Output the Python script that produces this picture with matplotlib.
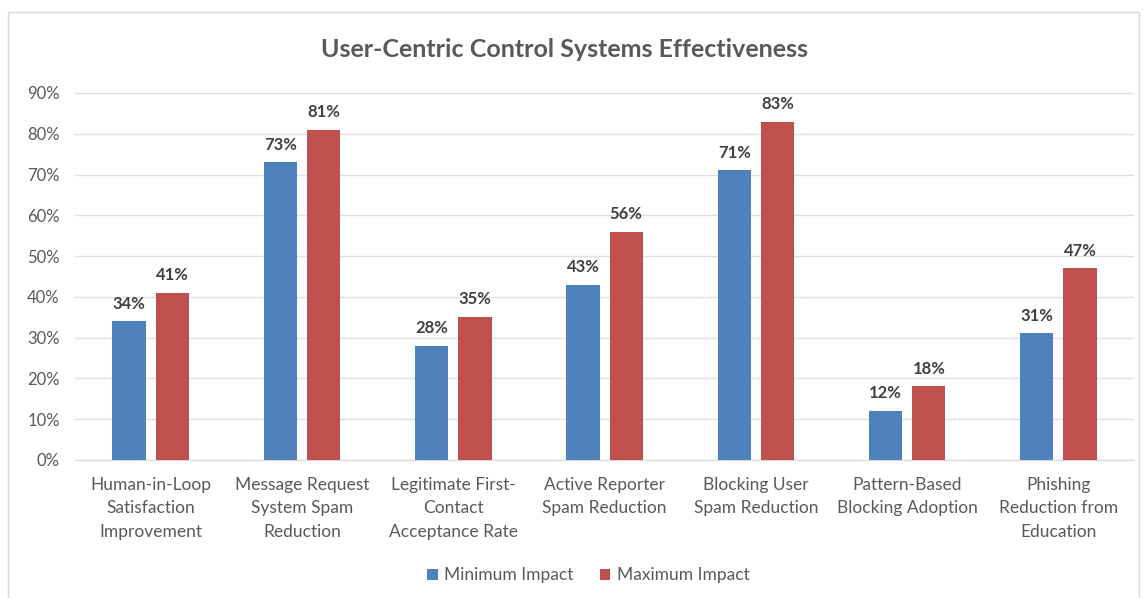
import numpy as np
import matplotlib
matplotlib.use("Agg")
import matplotlib.pyplot as plt
from matplotlib.patches import Rectangle

categories = [
    "Human-in-Loop\nSatisfaction\nImprovement",
    "Message Request\nSystem Spam\nReduction",
    "Legitimate First-\nContact\nAcceptance Rate",
    "Active Reporter\nSpam Reduction",
    "Blocking User\nSpam Reduction",
    "Pattern-Based\nBlocking Adoption",
    "Phishing\nReduction from\nEducation",
]
min_impact = [34, 73, 28, 43, 71, 12, 31]
max_impact = [41, 81, 35, 56, 83, 18, 47]
series_names = ["Minimum Impact", "Maximum Impact"]
yticks = [0, 10, 20, 30, 40, 50, 60, 70, 80, 90]

plt.rcParams['font.family'] = ['Lato', 'DejaVu Sans']
text_gray = "#595959"

fig = plt.figure(figsize=(11.45, 5.98), dpi=100)
ax = fig.add_axes([0.0655, 0.231, 0.925, 0.6135])

# outer chart border
fig.patches.append(Rectangle((0.007, -0.01), 0.988, 0.99, transform=fig.transFigure,
                             fill=False, edgecolor="#d9d9d9", linewidth=1))

x = np.arange(len(categories))
w = 0.22
gap = 0.066
b1 = ax.bar(x - (w + gap) / 2, min_impact, w, color="#4F81BD", label=series_names[0], zorder=3)
b2 = ax.bar(x + (w + gap) / 2, max_impact, w, color="#C0504D", label=series_names[1], zorder=3)

for bars, vals in [(b1, min_impact), (b2, max_impact)]:
    for rect, v in zip(bars, vals):
        ax.annotate(f"{v}%", (rect.get_x() + rect.get_width() / 2, v),
                    xytext=(0, 7), textcoords="offset points", ha="center", va="bottom",
                    fontsize=12, fontweight="bold", color="#404040")

ax.set_xlim(-0.5, len(categories) - 0.5)
ax.set_ylim(0, 90)
ax.set_yticks(yticks)
ax.set_yticklabels([f"{t}%" for t in yticks], fontsize=12, color=text_gray)
ax.set_xticks(x)
ax.set_xticklabels(categories, fontsize=12.5, color=text_gray, linespacing=1.6)
ax.tick_params(axis="both", length=0)
ax.tick_params(axis="y", pad=11)
ax.tick_params(axis="x", pad=12)
ax.grid(axis="y", color="#e0e0e0", linewidth=1, zorder=0)
for s in ["top", "right", "left"]:
    ax.spines[s].set_visible(False)
ax.spines["bottom"].set_color("#d9d9d9")

fig.text(0.493, 0.918, "User-Centric Control Systems Effectiveness", ha="center", va="center",
         fontsize=18, fontweight="bold", color=text_gray)

fig.legend(handles=[b1, b2], loc="center", bbox_to_anchor=(0.514, 0.038), ncol=2,
           frameon=False, fontsize=12.5, handlelength=0.6, handleheight=0.6,
           columnspacing=1.5, handletextpad=0.4, labelcolor=text_gray)

fig.savefig("out.png", dpi=100)
